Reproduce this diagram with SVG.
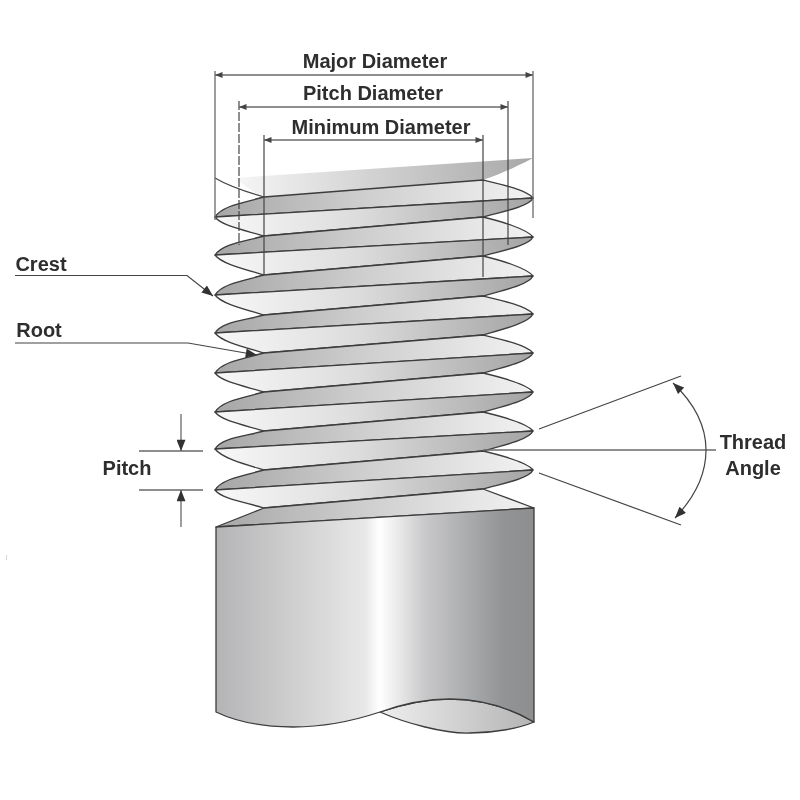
<svg xmlns="http://www.w3.org/2000/svg" width="800" height="800" viewBox="0 0 800 800">
<style>
.t{font-family:"Liberation Sans",Arial,sans-serif;font-weight:700;font-size:20px;fill:#2e2e2e;text-anchor:middle}
.s{stroke:#3c3c3c;stroke-width:1.3;stroke-linejoin:round}
.a{fill:url(#ga)}
.b{fill:url(#gb)}
.l{fill:none;stroke:#444;stroke-width:1.2}
.g{fill:none;stroke:#6a6a6a;stroke-width:1.3}
</style>
<defs>
<filter id="soft" x="0" y="0" width="100%" height="100%"><feGaussianBlur stdDeviation="0.4"/></filter>
<linearGradient id="ga" gradientUnits="userSpaceOnUse" x1="215" y1="0" x2="533" y2="0"><stop offset="0" stop-color="#a6a6a6"/><stop offset=".45" stop-color="#cdcdcd"/><stop offset="1" stop-color="#f2f2f2"/></linearGradient>
<linearGradient id="gb" gradientUnits="userSpaceOnUse" x1="215" y1="0" x2="533" y2="0"><stop offset="0" stop-color="#f8f8f8"/><stop offset=".45" stop-color="#dcdcdc"/><stop offset="1" stop-color="#a4a4a4"/></linearGradient>
<linearGradient id="gt" gradientUnits="userSpaceOnUse" x1="235" y1="0" x2="533" y2="0"><stop offset="0" stop-color="#f6f6f6"/><stop offset="1" stop-color="#a8a8a8"/></linearGradient>
<linearGradient id="gs" gradientUnits="userSpaceOnUse" x1="216" y1="0" x2="534" y2="0"><stop offset="0" stop-color="#b4b4b6"/><stop offset=".47" stop-color="#e8e8e8"/><stop offset=".515" stop-color="#ffffff"/><stop offset=".66" stop-color="#c8c8ca"/><stop offset=".9" stop-color="#929496"/><stop offset="1" stop-color="#8c8e90"/></linearGradient>
<linearGradient id="gl" gradientUnits="userSpaceOnUse" x1="380" y1="0" x2="534" y2="0"><stop offset="0" stop-color="#eeeeee"/><stop offset="1" stop-color="#b4b4b4"/></linearGradient>
<marker id="ah" viewBox="0 0 10 8" refX="10" refY="4" markerWidth="12" markerHeight="9" markerUnits="userSpaceOnUse" orient="auto-start-reverse"><path d="M0 0L10 4L0 8Z" fill="#333"/></marker>
<marker id="as" viewBox="0 0 10 8" refX="10" refY="4" markerWidth="8" markerHeight="6" markerUnits="userSpaceOnUse" orient="auto-start-reverse"><path d="M0 0L10 4L0 8Z" fill="#444"/></marker>
</defs>
<g filter="url(#soft)">
<g id="thread">
<path d="M235 178L533 158C510 170 495 176 483 180L264 197C255 194 245 186 235 178Z" fill="url(#gt)"/>
<path class="l" d="M215 178C230 187 250 193 264 197"/>
<path class="s a" d="M264 197L483 180C500 184 527 190 533 198L215 217C222 206 242 203 264 197Z"/>
<path class="s b" d="M215 217L533 198C529 207 500 212 483 217L264 236C244 230 222 226 215 217Z"/>
<path class="s a" d="M264 236L483 217C500 221 527 229 533 237L215 255C222 244 242 242 264 236Z"/>
<path class="s b" d="M215 255L533 237C529 246 500 251 483 256L264 275C244 269 222 264 215 255Z"/>
<path class="s a" d="M264 275L483 256C500 260 527 268 533 276L215 295C222 284 242 281 264 275Z"/>
<path class="s b" d="M215 295L533 276C529 285 500 291 483 296L264 315C244 309 222 304 215 295Z"/>
<path class="s a" d="M264 315L483 296C500 300 527 306 533 314L215 333C222 322 242 321 264 315Z"/>
<path class="s b" d="M215 333L533 314C529 323 500 330 483 335L264 353C244 347 222 342 215 333Z"/>
<path class="s a" d="M264 353L483 335C500 339 527 345 533 353L215 373C222 362 242 359 264 353Z"/>
<path class="s b" d="M215 373L533 353C529 362 500 368 483 373L264 392C244 386 222 382 215 373Z"/>
<path class="s a" d="M264 392L483 373C500 377 527 384 533 392L215 412C222 401 242 398 264 392Z"/>
<path class="s b" d="M215 412L533 392C529 401 500 407 483 412L264 431C244 425 222 421 215 412Z"/>
<path class="s a" d="M264 431L483 412C500 416 527 423 533 431L215 449C222 438 242 437 264 431Z"/>
<path class="s b" d="M215 449L533 431C529 440 500 446 483 451L264 470C244 464 222 458 215 449Z"/>
<path class="s a" d="M264 470L483 451C500 455 527 462 533 470L215 490C222 479 242 476 264 470Z"/>
<path class="s b" d="M215 490L533 470C529 479 500 484 483 489L264 508C244 502 222 499 215 490Z"/>
<path class="s a" d="M264 508L483 489L534 508L216 527Z"/>
</g>
<g id="shank">
<path class="s" fill="url(#gl)" d="M380 712C405 723 445 734 470 733C495 733 520 728 534 722C510 708 480 699 450 699C425 699 400 705 380 712Z"/>
<path class="s" fill="url(#gs)" d="M216 527L534 508V722C510 708 480 699 450 699C425 699 400 705 380 712C350 722 320 727 293 727C262 727 235 721 216 712Z"/>
</g>
<g id="connectors">
<path class="g" d="M215 71V220M533 71V218" stroke-width="1.1"/>
<path class="g" d="M215 75H533" marker-start="url(#as)" marker-end="url(#as)"/>
<path class="l" d="M239 101V245" stroke-dasharray="9 2"/>
<path class="l" d="M508 101V245"/>
<path class="g" d="M239 107H508" marker-start="url(#as)" marker-end="url(#as)"/>
<path class="l" d="M264 135V275M483 135V277"/>
<path class="g" d="M264 140H483" marker-start="url(#as)" marker-end="url(#as)"/>
<path class="l" d="M15 275.500H187L213 296" marker-end="url(#ah)"/>
<path class="l" d="M15 343H188L257 355" marker-end="url(#ah)"/>
<path class="g" d="M139 451H203M139 490H203"/>
<path class="g" d="M181 414V451" marker-end="url(#ah)"/>
<path class="g" d="M181 527V490" marker-end="url(#ah)"/>
<path class="g" d="M6 555V560" opacity=".4"/>
<path class="l" d="M539 429L681 376M539 473L681 525"/>
<path class="g" d="M483 450H716"/>
<path class="l" d="M673 383C696 405 706 428 706 450C706 476 694 498 675 518" marker-start="url(#ah)" marker-end="url(#ah)"/>
</g>
<g id="labels">
<text class="t" x="375" y="68">Major Diameter</text>
<text class="t" x="373" y="100">Pitch Diameter</text>
<text class="t" x="381" y="134">Minimum Diameter</text>
<text class="t" x="41" y="271">Crest</text>
<text class="t" x="39" y="337">Root</text>
<text class="t" x="127" y="475">Pitch</text>
<text class="t" x="753" y="449">Thread</text>
<text class="t" x="753" y="475">Angle</text>
</g>
</g>
</svg>
